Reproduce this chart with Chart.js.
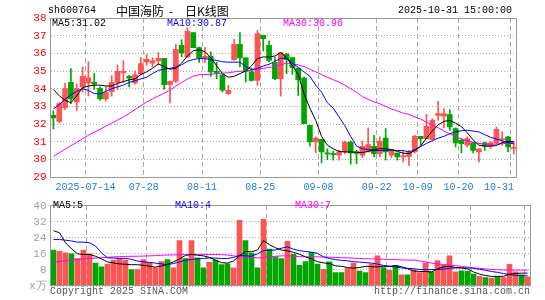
<!DOCTYPE html>
<html>
<head>
<meta charset="utf-8">
<script src="https://cdn.jsdelivr.net/npm/chart.js@4.4.0/dist/chart.umd.min.js"></script>
<style>
  body { margin: 0; width: 545px; height: 300px; background: #fff; position: relative; overflow: hidden;
         font-family: "Liberation Mono", "DejaVu Sans Mono", monospace; }
  .t { position: absolute; white-space: pre; font-size: 10px; line-height: 12px; }
  .cjk { font: 12px/16px "Noto Sans CJK SC"; top: 3px; }
  #kbox { position: absolute; left: 0; top: 0; width: 545px; height: 195px; }
  #vbox { position: absolute; left: 0; top: 195px; width: 545px; height: 105px; }
</style>
</head>
<body>
<div id="kbox"><canvas id="kline"></canvas></div>
<div id="vbox"><canvas id="vol"></canvas></div>

<div class="t" style="left:48px;top:5px">sh600764</div>
<div class="t cjk" style="left:116px">中国海防</div>
<div class="t cjk" style="left:169px">-</div>
<div class="t cjk" style="left:185px">日K线图</div>
<div class="t" style="left:398px;top:5px">2025-10-31 15:00:00</div>

<div class="t" style="left:52px;top:18px;color:#000">MA5:31.02</div>
<div class="t" style="left:167px;top:18px;color:#0000ff">MA10:30.87</div>
<div class="t" style="left:283px;top:18px;color:#ff00ff">MA30:30.96</div>

<div class="t" style="left:53px;top:200px;color:#000">MA5:5</div>
<div class="t" style="left:175px;top:200px;color:#0000ff">MA10:4</div>
<div class="t" style="left:295px;top:200px;color:#ff00ff">MA30:7</div>

<div class="t" style="left:50px;top:286px;color:#555">Copyright 2025 SINA.COM</div>
<div class="t" style="left:374px;top:286px;color:#555">http://finance.sina.com.cn</div>

<script>
// trading days 2025-07-04 .. 2025-10-31
const dates = [
  '07-04','07-07','07-08','07-09','07-10','07-11','07-14','07-15','07-16','07-17','07-18','07-21','07-22','07-23','07-24','07-25','07-28','07-29','07-30','07-31',
  '08-01','08-04','08-05','08-06','08-07','08-08','08-11','08-12','08-13','08-14','08-15','08-18','08-19','08-20','08-21','08-22','08-25','08-26','08-27','08-28','08-29',
  '09-01','09-02','09-03','09-04','09-05','09-08','09-09','09-10','09-11','09-12','09-15','09-16','09-17','09-18','09-19','09-22','09-23','09-24','09-25','09-26','09-29','09-30',
  '10-09','10-10','10-13','10-14','10-15','10-16','10-17','10-20','10-21','10-22','10-23','10-24','10-27','10-28','10-29','10-30','10-31'
];
const markDates = ['07-14','07-28','08-11','08-25','09-08','09-22','10-09','10-20','10-31'];

const open = [32.49,32.15,32.93,34.36,33.25,34.10,34.32,34.36,34.02,33.42, 33.83,34.36,34.89,34.70,34.32,34.83,35.51,35.45,35.57,35.72,
  34.23,34.42,36.45,35.79,37.17,36.32,35.74,35.83,34.98,34.79, 33.72,35.64,36.51,35.74,34.95,34.47,37.02,36.45,35.47,34.57,
  35.95,35.76,35.17,34.60,31.93,30.98,31.13,30.34,30.30,30.23, 30.42,30.98,30.42,30.23,30.42,30.74,30.32,31.21,30.23,30.36,
  30.13,30.17,30.42,31.30,31.17,31.11,32.49,32.45,32.53,31.74, 31.08,30.80,30.93,30.42,30.93,30.74,30.93,31.11,31.27,30.62];
const close = [32.34,33.15,34.00,33.42,34.00,34.70,34.62,34.27,33.42,33.78, 34.36,34.98,34.98,34.59,34.79,35.42,35.66,35.57,35.72,34.23,
  34.42,36.23,36.02,37.25,36.32,35.76,35.83,34.95,34.89,33.91, 33.91,36.51,35.74,34.98,34.47,37.12,36.83,35.60,34.57,36.04,
  35.64,35.19,34.51,32.02,30.98,31.21,30.42,30.31,30.27,30.42, 30.98,30.36,30.33,30.74,30.83,30.32,31.04,30.42,30.55,30.13,
  30.20,30.42,31.30,31.17,31.87,32.21,32.59,32.59,31.83,30.93, 30.89,31.17,30.51,30.60,30.74,30.93,31.70,31.17,30.70,30.68];
const high = [32.74,33.21,34.32,35.13,34.28,35.23,35.53,34.85,34.10,34.10, 34.74,35.34,35.57,34.76,35.00,35.76,35.95,35.76,36.04,35.72,
  34.45,36.51,36.78,37.45,37.17,36.36,36.32,36.08,35.51,34.79, 34.19,36.79,37.17,35.74,35.17,37.30,37.02,36.70,35.79,36.04,
  36.00,35.76,35.17,34.66,31.93,31.27,31.13,30.60,30.47,30.51, 31.04,31.04,30.51,31.04,31.79,31.36,31.27,31.74,30.55,30.36,
  30.51,30.51,31.36,31.30,32.55,32.30,33.28,32.87,32.81,31.79, 31.17,31.27,30.98,30.60,30.98,31.00,31.83,31.55,31.30,30.98];
const low = [31.72,32.06,32.81,33.15,32.74,33.81,33.59,33.96,33.34,33.29, 33.57,33.95,34.34,34.10,34.25,34.76,35.32,35.23,35.36,33.96,
  33.19,34.34,35.79,35.79,36.32,35.49,35.47,34.70,34.57,33.81, 33.68,35.60,35.23,34.38,34.42,34.19,36.13,35.51,34.51,33.57,
  34.85,34.81,33.62,32.02,30.74,30.36,29.80,29.98,29.95,29.95, 30.32,29.72,29.76,30.10,30.42,30.13,30.13,29.95,30.10,29.95,
  29.85,29.66,30.36,30.80,31.17,31.08,32.21,31.79,31.64,30.70, 30.36,30.70,30.36,29.85,30.51,30.60,30.85,30.80,30.42,30.30];

const ma5 = [33.95,33.6,33.35,33.2,33.6,34.05,34.15,34.2,34.2,34.15,34.15,34.3,34.4,34.5,34.55,34.8,34.95,35.15,35.4,35.25,35.1,35.15,
  35.45,35.85,36.15,36.2,36.1,35.75,35.3,34.85,34.65,34.7,34.85,35.0,35.3,35.7,35.8,35.78,35.85,36.04,35.75,35.3,34.8,33.7,32.9,32.2,31.3,30.8,30.6,30.45,
  30.42,30.42,30.4,30.38,30.45,30.55,30.6,30.6,30.55,30.45,30.35,30.32,30.5,30.75,31.2,31.6,31.95,32.15,32.2,32.05,31.85,31.5,31.1,30.8,30.75,30.75,30.78,30.95,31.0,31.02];
const ma10 = [32.85,33.1,33.4,33.65,33.85,34.0,33.9,33.72,33.7,33.85,34.0,34.1,34.2,34.35,34.45,34.55,34.65,34.85,35.04,35.1,35.15,35.22,
  35.35,35.55,35.65,35.7,35.7,35.65,35.6,35.52,35.5,35.5,35.5,35.25,35.08,35.15,35.28,35.38,35.55,35.72,35.72,35.45,35.2,34.95,34.7,34.2,33.8,33.2,32.9,32.4,31.9,31.3,30.75,30.6,30.55,30.5,30.5,30.5,30.52,30.5,30.5,
  30.42,30.55,30.72,30.9,31.05,31.2,31.3,31.45,31.55,31.62,31.65,31.6,31.55,31.4,31.25,31.15,31.05,30.95,30.87];
const ma30 = [30.17,30.37,30.57,30.77,30.97,31.17,31.36,31.53,31.7,31.88,32.05,32.22,32.4,32.6,32.82,33.04,33.25,33.42,33.58,33.75,33.91,
  34.15,34.35,34.55,34.7,34.79,34.8,34.82,34.85,34.88,34.9,34.95,34.98,35.0,35.05,35.1,35.15,35.2,35.25,35.35,35.45,
  35.4,35.35,35.25,35.1,34.95,34.8,34.65,34.5,34.38,34.2,34.0,33.8,33.55,33.4,33.25,33.15,33.0,32.85,32.74,
  32.62,32.55,32.4,32.28,32.1,31.95,31.8,31.6,31.45,31.28,31.15,31.05,30.97,30.9,30.86,30.85,30.86,30.88,30.92,30.96];

// volume, 万手
const volume = [17.9,17.3,16.5,16.0,13.7,17.9,16.0,11.4,9.5,10.9, 12.9,13.7,12.9,8.2,8.2,13.2,11.7,9.0,12.1,13.2,
  9.0,22.6,13.7,22.6,14.0,9.0,11.8,12.9,10.6,11.0, 9.0,32.7,22.6,16.4,9.0,33.2,18.4,14.5,13.7,22.2,
  15.8,10.3,12.1,16.8,10.9,8.3,12.0,6.7,6.7,8.8, 11.4,7.4,6.7,10.9,15.0,9.2,7.9,10.3,5.6,5.6,
  8.0,6.7,11.5,7.0,12.6,10.3,15.0,7.0,7.5,7.4, 5.9,4.8,4.2,4.0,4.6,4.2,10.8,7.0,5.6,4.6];
const volMa5 = [27.5,26.5,21.5,18.5,16.0,15.7,15.7,14.8,13.5,12.0, 11.5,11.0,10.8,10.6,10.6,10.3,9.8,9.4,10.0,10.8,
  12.0,13.5,15.2,15.7,15.3,15.0,14.2,12.9,11.6,11.4, 12.5,15.0,17.2,17.0,17.9,22.6,20.5,19.0,17.9,17.5,
  16.8,15.8,14.5,13.5,12.1,11.5,11.2,10.0,9.8,9.2, 8.9,9.2,9.8,9.6,9.5,9.8,9.8,10.1,9.6,8.6,
  7.5,7.2,7.2,7.0,8.6,9.5,9.8,9.2,9.0,8.5, 7.0,5.9,5.2,4.8,4.8,4.8,5.9,6.2,6.4,6.4];
const volMa10 = [23.1,23.1,22.8,22.4,21.8,21.8,21.5,19.9,16.5,14.0, 13.9,13.8,13.7,13.3,12.4,12.0,11.7,11.4,11.0,10.6,
  11.2,12.0,12.9,13.2,13.5,13.7,14.0,13.9,13.7,13.7, 14.2,15.3,15.0,14.8,16.0,17.6,17.8,17.9,18.8,19.5,
  18.3,17.6,17.2,16.8,16.3,14.5,13.7,13.1,12.8,12.5, 12.1,11.9,11.6,11.4,10.9,10.2,9.8,9.4,9.0,8.8,
  8.6,8.2,8.2,8.2,8.2,8.4,8.8,9.0,9.0,9.0, 8.8,8.3,7.8,7.2,6.8,6.2,5.7,5.3,5.1,5.1];
const volMa30 = [11.8,12.2,12.6,12.9,13.2,13.5,13.7,13.9,14.1,14.3, 14.5,14.6,14.7,14.8,14.8,14.9,15.0,15.1,15.3,15.4,
  15.5,15.6,15.7,15.7,15.7,15.7,15.7,15.7,15.6,15.4, 15.0,14.6,14.4,14.2,14.0,14.2,14.5,14.8,15.0,15.0,
  14.8,14.6,14.5,14.5,14.5,14.4,14.3,14.2,14.1,14.0, 13.8,13.7,13.6,13.5,13.4,13.3,13.2,13.1,13.0,12.9,
  12.9,12.5,12.0,11.4,11.0,10.7,10.4,10.1,9.8,9.4, 9.0,8.8,8.5,8.2,8.1,8.0,8.0,7.9,7.9,7.9];

const priceTicks = [29, 38, 1];   // min, max, step
const volTicks = [0, 40, 8];

const UP = '#ff5454', DOWN = '#00a600';
const colors = close.map((c, i) => c >= open[i] ? UP : DOWN);
const marks = new Set(markDates.map(d => dates.indexOf(d)));

Chart.defaults.font.family = '"Liberation Mono", "DejaVu Sans Mono", monospace';
Chart.defaults.font.size = 10;
Chart.defaults.animation = false;

const frame = {
  id: 'frame',
  afterDatasetsDraw(chart) {
    const { ctx, chartArea: a } = chart;
    ctx.save();
    ctx.strokeStyle = '#999';
    ctx.lineWidth = 1;
    ctx.strokeRect(Math.floor(a.left) + 0.5, Math.floor(a.top) + 0.5,
                   Math.round(a.right - a.left), Math.round(a.bottom - a.top));
    ctx.restore();
  }
};

function xAxis(showLabels) {
  return {
    type: 'category',
    offset: true,
    afterFit: s => { s.height = showLabels ? 18 : 0; },
    grid: { offset: true, drawTicks: false, lineWidth: 1,
            color: c => marks.has(c.index) ? '#aaa' : 'rgba(0,0,0,0)' },
    border: { display: false, dash: [5, 3] },
    ticks: {
      display: showLabels, autoSkip: false, maxRotation: 0, minRotation: 0,
      padding: 4, labelOffset: -3, color: '#1b7fd2',
      callback: (v, i) => {
        if (!marks.has(i)) return '';
        if (dates[i] === markDates[0]) return '2025-' + dates[i];
        if (dates[i] === markDates[markDates.length - 1]) return dates[i] + '    ';
        return dates[i];
      }
    }
  };
}

function maLine(label, data, color) {
  return { type: 'line', label, data, borderColor: color, borderWidth: 1,
           pointRadius: 0, tension: 0, order: 0 };
}

new Chart(document.getElementById('kline'), {
  type: 'bar',
  data: {
    labels: dates,
    datasets: [
      maLine('MA5', ma5, '#000000'),
      maLine('MA10', ma10, '#0000ff'),
      maLine('MA30', ma30, '#ff00ff'),
      { label: 'body', data: open.map((o, i) => [o, close[i]]), backgroundColor: colors,
        barThickness: 5, grouped: false, minBarLength: 1, order: 1 },
      { label: 'wick', data: low.map((l, i) => [l, high[i]]), backgroundColor: colors,
        barThickness: 1, grouped: false, order: 2 }
    ]
  },
  options: {
    responsive: true, maintainAspectRatio: false, devicePixelRatio: 1, events: [],
    layout: { autoPadding: false, padding: { top: 18, right: 14.5, bottom: 0, left: 0 } },
    plugins: { legend: { display: false }, tooltip: { enabled: false } },
    scales: {
      x: xAxis(true),
      y: {
        min: priceTicks[0], max: priceTicks[1],
        afterFit: s => { s.width = 50.5; },
        ticks: { stepSize: priceTicks[2], color: '#ff0000', padding: 4, font: { size: 11 } },
        grid: { drawTicks: false, color: '#aaa' },
        border: { display: false, dash: [1, 2] }
      }
    }
  },
  plugins: [frame]
});

new Chart(document.getElementById('vol'), {
  type: 'bar',
  data: {
    labels: dates,
    datasets: [
      maLine('MA5', volMa5, '#000000'),
      maLine('MA10', volMa10, '#0000ff'),
      maLine('MA30', volMa30, '#ff00ff'),
      { label: 'volume', data: volume, backgroundColor: colors, barThickness: 5, order: 1 }
    ]
  },
  options: {
    responsive: true, maintainAspectRatio: false, devicePixelRatio: 1, events: [],
    layout: { autoPadding: false, padding: { top: 5.5, right: 14.5, bottom: 14, left: 0 } },
    plugins: { legend: { display: false }, tooltip: { enabled: false } },
    scales: {
      x: xAxis(false),
      y: {
        min: volTicks[0], max: volTicks[1],
        afterFit: s => { s.width = 50.5; },
        ticks: { stepSize: volTicks[2], color: '#a0a0a0', padding: 4, font: { size: 11 },
                 callback: v => v === 0 ? 'x万' : v },
        grid: { drawTicks: false, color: '#aaa' },
        border: { display: false, dash: [1, 2] }
      }
    }
  },
  plugins: [frame]
});
</script>
</body>
</html>
